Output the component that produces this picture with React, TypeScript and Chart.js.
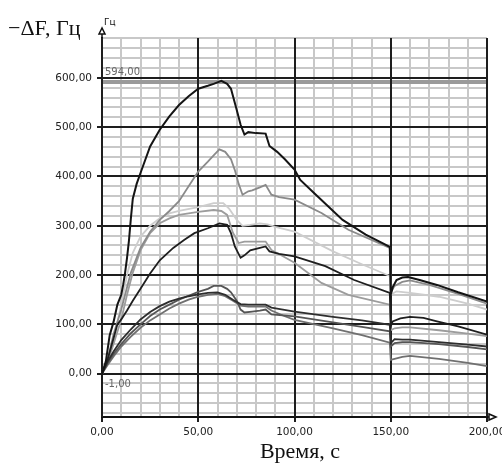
import React, { useEffect, useRef } from 'react';
import { Chart, registerables } from 'chart.js';

Chart.register(...registerables);

// ---------- data (time, s ; -ΔF, Hz) ----------
const L1_T = [0, 2, 4, 6, 8, 10, 11, 12, 13, 14, 15, 16, 18, 20, 25, 30, 35, 40, 45, 50, 55, 58, 62, 65, 67, 70, 72, 74, 76, 80, 85, 87, 91, 95, 100, 103, 110, 125, 137, 149.5, 150, 151, 153, 156, 159, 165, 174, 185, 200];
const L1_V = [0, 25, 78, 105, 140, 160, 180, 205, 235, 270, 315, 355, 385, 407, 461, 495, 522, 545, 563, 578, 584, 588, 594, 588, 578, 535, 505, 485, 490, 488, 487, 462, 450, 435, 414, 393, 367, 312, 282, 257, 160, 175, 190, 195, 196, 190, 180, 165, 146];

const L2_T = [0, 3, 6, 10, 15, 20, 25, 30, 35, 40, 45, 50, 55, 58, 61, 64, 67, 69, 71, 73, 76, 78, 82, 85, 88, 92, 100, 114, 128, 149.5, 150, 152, 156, 160, 170, 185, 200];
const L2_V = [0, 30, 80, 130, 205, 255, 288, 312, 330, 350, 380, 410, 430, 443, 455, 450, 435, 413, 385, 363, 370, 372, 378, 383, 363, 358, 353, 326, 292, 255, 165, 178, 186, 189, 180, 162, 142];

const L3_T = [0, 3, 6, 10, 13, 16, 20, 25, 30, 35, 40, 50, 58, 63, 66, 70, 73, 77, 82, 86, 90, 100, 120, 135, 149.5, 150, 153, 160, 175, 190, 200];
const L3_V = [0, 25, 70, 140, 200, 245, 278, 300, 315, 325, 330, 338, 346, 346, 335, 312, 300, 302, 305, 303, 298, 288, 248, 222, 198, 160, 167, 164, 156, 142, 130];

const L4_T = [0, 3, 6, 8, 10, 13, 16, 20, 25, 30, 37, 43, 48, 55, 61, 65, 67, 69, 72, 74, 77, 81, 85, 87, 92, 100, 116, 131, 149.5, 150, 151, 155, 160, 167, 174, 185, 200];
const L4_V = [0, 30, 72, 100, 110, 128, 148, 172, 203, 230, 255, 272, 285, 295, 305, 302, 285, 258, 235, 240, 250, 254, 258, 248, 243, 238, 218, 190, 164, 96, 106, 112, 115, 113, 106, 96, 79];

const L5_T = [0, 3, 6, 10, 13, 16, 20, 25, 30, 35, 40, 50, 58, 62, 65, 68, 71, 74, 78, 82, 85, 88, 94, 100, 114, 128, 149.5, 150, 152, 156, 160, 175, 190, 200];
const L5_V = [0, 25, 60, 110, 160, 205, 250, 285, 305, 315, 322, 328, 332, 330, 322, 286, 265, 268, 268, 268, 268, 251, 238, 225, 184, 160, 140, 88, 92, 94, 94, 88, 81, 76];

const L6_T = [0, 3, 6, 10, 15, 20, 25, 30, 35, 40, 45, 50, 55, 58, 62, 65, 67, 70, 72, 74, 78, 82, 85, 88, 94, 100, 120, 135, 149.5, 150, 152, 156, 160, 175, 190, 200];
const L6_V = [0, 22, 40, 60, 82, 100, 117, 130, 140, 150, 158, 166, 172, 178, 178, 172, 165, 148, 130, 124, 126, 128, 130, 120, 118, 116, 104, 95, 86, 55, 62, 64, 64, 60, 54, 49];

const L7_T = [0, 3, 6, 10, 15, 20, 25, 30, 35, 40, 45, 50, 55, 60, 64, 68, 72, 76, 80, 85, 88, 94, 100, 120, 135, 149.5, 150, 152, 156, 160, 175, 190, 200];
const L7_V = [0, 25, 45, 68, 90, 110, 125, 137, 146, 152, 157, 161, 164, 165, 160, 150, 141, 140, 140, 140, 134, 130, 126, 115, 108, 99, 62, 70, 69, 69, 64, 59, 55];

const L8_T = [0, 3, 6, 10, 15, 20, 25, 30, 35, 40, 45, 50, 55, 60, 64, 68, 72, 76, 80, 85, 88, 94, 100, 120, 135, 149.5, 150, 152, 156, 160, 175, 190, 200];
const L8_V = [0, 18, 35, 55, 75, 93, 108, 120, 132, 142, 150, 156, 160, 162, 157, 148, 138, 136, 136, 136, 128, 118, 109, 92, 78, 63, 28, 30, 34, 36, 30, 22, 15];

const X_TICKS = [0, 10, 20, 30, 40, 50, 60, 70, 80, 90, 100, 110, 120, 130, 140, 150, 160, 170, 180, 190, 200];
const Y_TICKS = [-80, -60, -40, -20, 0, 20, 40, 60, 80, 100, 120, 140, 160, 180, 200, 220, 240, 260, 280, 300, 320, 340, 360, 380, 400, 420, 440, 460, 480, 500, 520, 540, 560, 580, 600, 620, 640, 660, 680];
const X_MAJOR = [0, 50, 100, 150, 200];
const Y_MAJOR = [0, 100, 200, 300, 400, 500, 600];

const MAX_VALUE = 594;
const MIN_VALUE = -1;

const X_TITLE = 'Время, с';
const Y_TITLE = '−ΔF, Гц';
const Y_UNIT = 'Гц';

const fmt = (v: number) => v.toFixed(2).replace('.', ',');

const SERIES = [
  { t: L1_T, v: L1_V, color: '#141414', w: 2 },
  { t: L4_T, v: L4_V, color: '#1e1e1e', w: 1.8 },
  { t: L7_T, v: L7_V, color: '#2e2e2e', w: 1.8 },
  { t: L6_T, v: L6_V, color: '#555555', w: 1.8 },
  { t: L8_T, v: L8_V, color: '#707070', w: 1.8 },
  { t: L2_T, v: L2_V, color: '#8a8a8a', w: 1.8 },
  { t: L5_T, v: L5_V, color: '#9c9c9c', w: 1.8 },
  { t: L3_T, v: L3_V, color: '#cdcdcd', w: 1.8 },
];

const MINOR = '#c8c8c8';
const MAJOR = '#1e1e1e';

const extras = {
  id: 'extras',
  beforeDatasetsDraw(chart: any) {
    const { ctx, chartArea, scales } = chart;
    ctx.save();
    // max marker band
    const y = scales.y.getPixelForValue(MAX_VALUE);
    ctx.strokeStyle = '#9a9a9a';
    ctx.lineWidth = 4;
    ctx.beginPath();
    ctx.moveTo(chartArea.left, y + 1);
    ctx.lineTo(chartArea.right, y + 1);
    ctx.stroke();
    // major grid on top of the minor grid
    ctx.strokeStyle = MAJOR;
    ctx.lineWidth = 2;
    ctx.beginPath();
    X_MAJOR.forEach((v) => {
      const px = Math.round(scales.x.getPixelForValue(v));
      ctx.moveTo(px, chartArea.top);
      ctx.lineTo(px, chartArea.bottom);
    });
    Y_MAJOR.forEach((v) => {
      const py = Math.round(scales.y.getPixelForValue(v));
      ctx.moveTo(chartArea.left, py);
      ctx.lineTo(chartArea.right, py);
    });
    ctx.stroke();
    ctx.restore();
  },
  afterDraw(chart: any) {
    const { ctx, chartArea, scales } = chart;
    ctx.save();
    // annotations
    ctx.fillStyle = '#666';
    ctx.font = '10px "DejaVu Sans"';
    ctx.textAlign = 'left';
    ctx.textBaseline = 'bottom';
    ctx.fillText(fmt(MAX_VALUE), chartArea.left + 3, scales.y.getPixelForValue(MAX_VALUE) - 3);
    ctx.textBaseline = 'top';
    ctx.fillText(fmt(MIN_VALUE), chartArea.left + 3, scales.y.getPixelForValue(0) + 6);

    // arrows
    ctx.strokeStyle = '#111';
    ctx.lineWidth = 1.5;
    const ax = chartArea.left;
    ctx.beginPath();
    ctx.moveTo(ax, chartArea.top);
    ctx.lineTo(ax, chartArea.top - 4);
    ctx.stroke();
    ctx.beginPath();
    ctx.moveTo(ax, chartArea.top - 10);
    ctx.lineTo(ax - 3, chartArea.top - 4);
    ctx.lineTo(ax + 3, chartArea.top - 4);
    ctx.closePath();
    ctx.stroke();
    const ay = chartArea.bottom;
    ctx.beginPath();
    ctx.moveTo(chartArea.right, ay);
    ctx.lineTo(chartArea.right + 2, ay);
    ctx.stroke();
    ctx.beginPath();
    ctx.moveTo(chartArea.right + 9, ay);
    ctx.lineTo(chartArea.right + 2, ay - 3);
    ctx.lineTo(chartArea.right + 2, ay + 3);
    ctx.closePath();
    ctx.stroke();

    // titles
    ctx.fillStyle = '#111';
    ctx.font = '9px "DejaVu Sans"';
    ctx.textBaseline = 'alphabetic';
    ctx.textAlign = 'left';
    ctx.fillText(Y_UNIT, ax + 2, chartArea.top - 13);
    ctx.font = '22px "Liberation Serif"';
    ctx.fillText(Y_TITLE, 8, 35);
    ctx.textAlign = 'center';
    ctx.font = '22px "Liberation Serif"';
    ctx.fillText(X_TITLE, 300, 458);
    ctx.restore();
  },
};

export default function App() {
  const ref = useRef<HTMLCanvasElement>(null);
  useEffect(() => {
    document.body.style.margin = '0';
    const chart = new Chart(ref.current as HTMLCanvasElement, {
      type: 'scatter',
      data: {
        datasets: SERIES.map((s) => ({
          data: s.t.map((x, i) => ({ x, y: s.v[i] })),
          showLine: true,
          borderColor: s.color,
          backgroundColor: s.color,
          borderWidth: s.w,
          pointRadius: 0,
          tension: 0,
          fill: false,
        })),
      },
      options: {
        responsive: false,
        animation: false,
        devicePixelRatio: 1,
        layout: { padding: { top: 38, right: 15, left: 0, bottom: 0 } },
        plugins: { legend: { display: false }, tooltip: { enabled: false }, title: { display: false } },
        scales: {
          x: {
            type: 'linear',
            min: 0,
            max: 200,
            afterBuildTicks: (s: any) => { s.ticks = X_TICKS.map((value) => ({ value })); },
            afterFit: (s: any) => { s.height = 49; s.paddingLeft = 0; s.paddingRight = 0; },
            ticks: {
              autoSkip: false,
              maxRotation: 0,
              padding: 4,
              color: '#222',
              font: { family: 'DejaVu Sans', size: 10.5 },
              callback: (v: any) => (Number(v) % 50 === 0 ? fmt(Number(v)) : ''),
            },
            grid: {
              color: MINOR,
              lineWidth: 2,
              tickLength: 5,
              tickColor: (c: any) => (c.tick && c.tick.value % 50 === 0 ? MAJOR : 'rgba(0,0,0,0)'),
            },
            border: { color: '#111', width: 2 },
          },
          y: {
            type: 'linear',
            min: -88,
            max: 681,
            afterBuildTicks: (s: any) => { s.ticks = Y_TICKS.map((value) => ({ value })); },
            afterFit: (s: any) => { s.width = 102; s.paddingTop = 0; s.paddingBottom = 0; },
            ticks: {
              autoSkip: false,
              padding: 5,
              color: '#222',
              font: { family: 'DejaVu Sans', size: 10.5 },
              callback: (v: any) => (Number(v) % 100 === 0 ? fmt(Number(v)) : ''),
            },
            grid: {
              color: MINOR,
              lineWidth: 2,
              tickLength: 5,
              tickColor: (c: any) => (c.tick && c.tick.value % 100 === 0 ? MAJOR : 'rgba(0,0,0,0)'),
            },
            border: { color: '#111', width: 2 },
          },
        },
      },
      plugins: [extras],
    } as any);
    return () => chart.destroy();
  }, []);
  return (
    <div style={{ width: 502, height: 466, position: 'relative' }}>
      <canvas ref={ref} width={502} height={466} style={{ display: 'block', width: 502, height: 466 }} />
    </div>
  );
}
